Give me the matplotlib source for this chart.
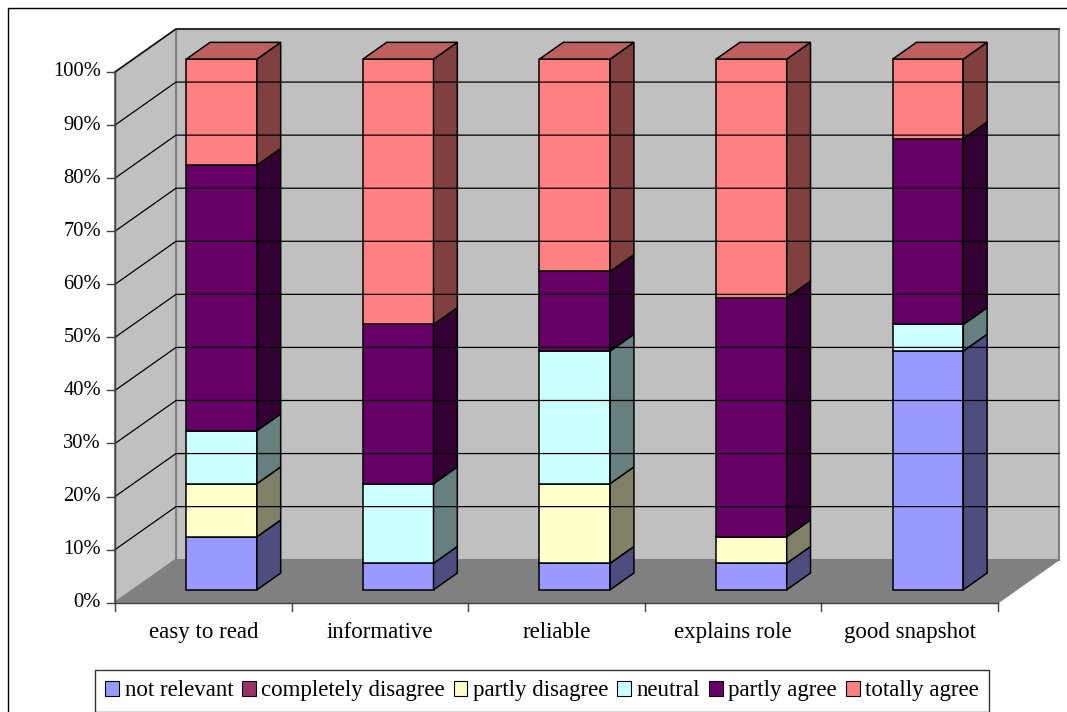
import matplotlib.pyplot as plt
from matplotlib.patches import Polygon, Patch

# Survey answers per statement, in percent
categories = ['easy to read', 'informative', 'reliable', 'explains role', 'good snapshot']
not_relevant = [10, 5, 5, 5, 45]
completely_disagree = [0, 0, 0, 0, 0]
partly_disagree = [10, 0, 15, 5, 0]
neutral = [10, 15, 25, 0, 5]
partly_agree = [50, 30, 15, 45, 35]
totally_agree = [20, 50, 40, 45, 15]

series = ['not relevant', 'completely disagree', 'partly disagree',
          'neutral', 'partly agree', 'totally agree']
values = [not_relevant, completely_disagree, partly_disagree,
          neutral, partly_agree, totally_agree]
colors = ['#9999FF', '#993366', '#FFFFCC', '#CCFFFF', '#660066', '#FF8080']
y_ticks = list(range(0, 101, 10))

plt.rcParams['font.family'] = ['Liberation Serif', 'DejaVu Serif']

fig = plt.figure(figsize=(10.67, 7.12), dpi=100)
ax = fig.add_axes([0, 0, 1, 1])
ax.set_xlim(0, 1067)
ax.set_ylim(712, 0)
ax.axis('off')

# pseudo-3d projection (Excel style): category, value, depth -> canvas
X0, Y0 = 115, 602.7
CW = 176.6          # width of one category
SY = 5.307          # pixels per percent
DX, DY = 61, -43    # full depth offset


def proj(c, v, d):
    return (X0 + c * CW + d * DX, Y0 - v * SY + d * DY)


def shade(hex_color, f):
    r, g, b = (int(hex_color[i:i + 2], 16) / 255 for i in (1, 3, 5))
    return (r * f, g * f, b * f)


n = len(categories)

# walls and floor
back = [proj(0, 0, 1), proj(n, 0, 1), proj(n, 100, 1), proj(0, 100, 1)]
left = [proj(0, 0, 0), proj(0, 0, 1), proj(0, 100, 1), proj(0, 100, 0)]
floor = [proj(0, 0, 0), proj(n, 0, 0), proj(n, 0, 1), proj(0, 0, 1)]
ax.add_patch(Polygon(back, closed=True, fc='#C0C0C0', ec='#808080', lw=1.5))
ax.add_patch(Polygon(left, closed=True, fc='#C0C0C0', ec='#808080', lw=1.5))
ax.add_patch(Polygon(floor, closed=True, fc='#808080', ec='#808080', lw=1))

# gridlines on the walls
for v in y_ticks[1:]:
    pts = [proj(0, v, 0), proj(0, v, 1), proj(n, v, 1)]
    ax.plot([p[0] for p in pts], [p[1] for p in pts], color='black', lw=0.9)

# axes
p0, p1 = proj(0, 0, 0), proj(0, 100, 0)
ax.plot([p0[0], p1[0]], [p0[1], p1[1]], color='#404040', lw=1)
p2 = proj(n, 0, 0)
ax.plot([p0[0], p2[0]], [p0[1], p2[1]], color='#404040', lw=1)
for v in y_ticks:
    x, y = proj(0, v, 0)
    ax.plot([x - 8, x], [y, y], color='#404040', lw=1)
    ax.text(x - 14, y, f'{v}%', ha='right', va='center', fontsize=14.8)
for i in range(n + 1):
    x, y = proj(i, 0, 0)
    ax.plot([x, x], [y, y + 8], color='#404040', lw=1)
for i, cat in enumerate(categories):
    x, y = proj(i + 0.5, 0, 0)
    ax.text(x, y + 30, cat, ha='center', va='center', fontsize=16.5)

# stacked 3d bars
hw = 0.2
d0, d1 = 0.3, 0.69
for i in range(n):
    cl, cr = i + 0.5 - hw, i + 0.5 + hw
    base = 0
    segs = [(values[s][i], colors[s]) for s in range(len(series)) if values[s][i] > 0]
    for k, (val, col) in enumerate(segs):
        top = base + val
        front = [proj(cl, base, d0), proj(cr, base, d0), proj(cr, top, d0), proj(cl, top, d0)]
        side = [proj(cr, base, d0), proj(cr, base, d1), proj(cr, top, d1), proj(cr, top, d0)]
        ax.add_patch(Polygon(front, closed=True, fc=col, ec='black', lw=1.1))
        ax.add_patch(Polygon(side, closed=True, fc=shade(col, 0.5), ec='black', lw=1.1))
        if k == len(segs) - 1:
            lid = [proj(cl, top, d0), proj(cr, top, d0), proj(cr, top, d1), proj(cl, top, d1)]
            ax.add_patch(Polygon(lid, closed=True, fc=shade(col, 0.75), ec='black', lw=1.1))
        base = top

# chart frame
ax.plot([8, 8, 1067], [712, 8, 8], color='black', lw=1)

handles = [Patch(facecolor=c, edgecolor='black', lw=0.8) for c in colors]
leg = fig.legend(handles, series, loc='lower center', bbox_to_anchor=(0.508, -0.006),
                 ncol=6, fontsize=16.5, frameon=True, fancybox=False,
                 handlelength=0.6, handleheight=0.6, handletextpad=0.25,
                 columnspacing=0.38, borderpad=0.45, borderaxespad=0.2)
leg.get_frame().set_edgecolor('black')
leg.get_frame().set_linewidth(1)

fig.savefig('out.png', dpi=100)
